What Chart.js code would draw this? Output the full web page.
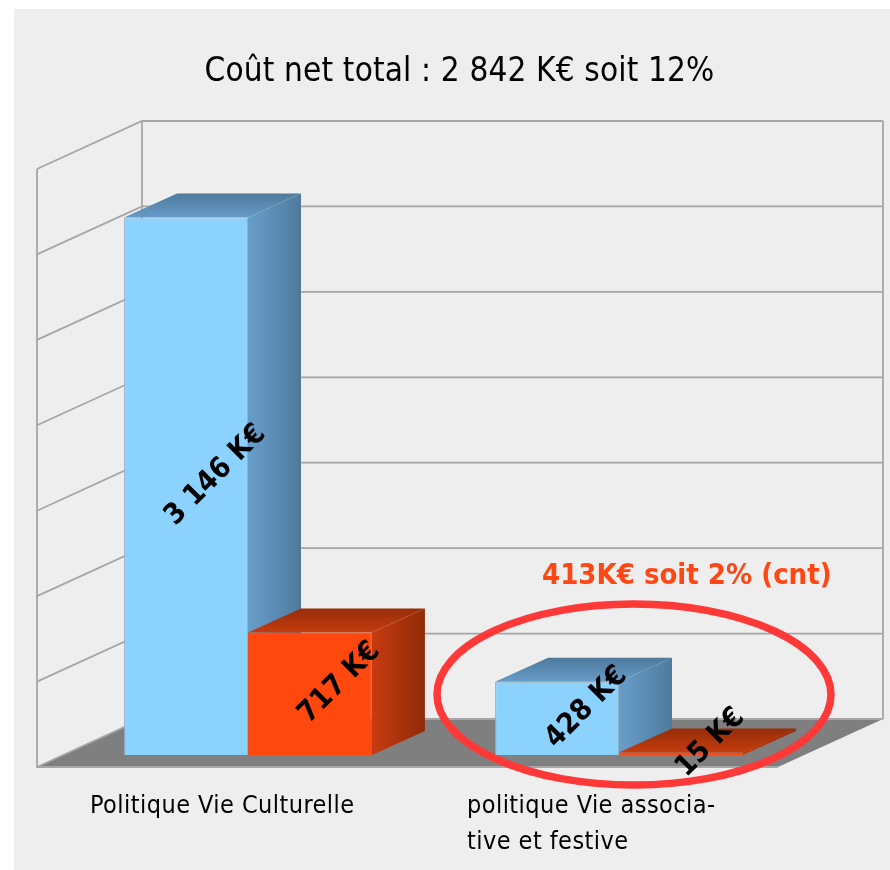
<!DOCTYPE html>
<html lang="fr">
<head>
<meta charset="utf-8">
<title>Coût net total</title>
<style>
  html, body { margin: 0; padding: 0; background: #ffffff; }
  canvas { display: block; }
</style>
<script src="https://cdn.jsdelivr.net/npm/chart.js@4/dist/chart.umd.js"></script>
</head>
<body>
<canvas id="chart" width="890" height="870"></canvas>
<script>
const categories = [['Politique Vie Culturelle'], ['politique Vie associa-', 'tive et festive']];
const depenses = [3146, 428];
const recettes = [717, 15];
const gridValues = [0, 500, 1000, 1500, 2000, 2500, 3000, 3500];
const titleText = 'Coût net total : 2 842 K€ soit 12%';
const noteText = '413K€ soit 2% (cnt)';

const FONT = '"DejaVu Sans Condensed", "DejaVu Sans", sans-serif';
const depth = { x: 53, y: -24 };
const wall = { x: 105, y: -48, frontX: 37, frontOffset: 12, rightX: 883, floorRightX: 778 };

const faces = [
  { side: ['#689ecb', '#4f7a9c'], top: ['#4f7a9c', '#659bc8'] },
  { side: ['#c83a10', '#8f2c08'], top: ['#962d08', '#c43c0e'] }
];

function formatValue(v) {
  return String(v).replace(/\B(?=(\d{3})+$)/g, ' ') + ' K€';
}

function gradient(ctx, x0, y0, x1, y1, colors) {
  const g = ctx.createLinearGradient(x0, y0, x1, y1);
  g.addColorStop(0, colors[0]);
  g.addColorStop(1, colors[1]);
  return g;
}

function poly(ctx, pts) {
  ctx.beginPath();
  pts.forEach((p, i) => i ? ctx.lineTo(p[0], p[1]) : ctx.moveTo(p[0], p[1]));
  ctx.closePath();
}

const scene3d = {
  id: 'scene3d',
  beforeDraw(chart) {
    const ctx = chart.ctx;
    ctx.save();
    ctx.fillStyle = '#eeeeee';
    ctx.fillRect(14, 9, 876, 861);

    ctx.font = '33px ' + FONT;
    ctx.letterSpacing = '0.15px';
    ctx.fillStyle = '#000000';
    ctx.textAlign = 'center';
    ctx.textBaseline = 'alphabetic';
    ctx.fillText(titleText, 459.5, 81);
    ctx.restore();
  },
  beforeDatasetsDraw(chart) {
    const ctx = chart.ctx;
    const y = chart.scales.y;
    const x = chart.scales.x;
    const backX = wall.frontX + wall.x;
    const base = y.getPixelForValue(0) + wall.frontOffset;
    const backOf = v => y.getPixelForValue(v) + wall.frontOffset + wall.y;
    const frontOf = v => y.getPixelForValue(v) + wall.frontOffset;

    ctx.save();
    // floor
    ctx.fillStyle = '#7f7f7f';
    poly(ctx, [[wall.frontX, base], [wall.floorRightX, base], [wall.rightX, base + wall.y], [backX, base + wall.y]]);
    ctx.fill();

    // walls and grid
    ctx.strokeStyle = '#a6a6a6';
    ctx.lineWidth = 1.8;
    gridValues.forEach(v => {
      ctx.beginPath();
      ctx.moveTo(wall.frontX, frontOf(v));
      ctx.lineTo(backX, backOf(v));
      ctx.lineTo(wall.rightX, backOf(v));
      ctx.stroke();
    });
    const top = gridValues[gridValues.length - 1];
    ctx.beginPath();
    ctx.moveTo(wall.frontX, frontOf(top));
    ctx.lineTo(wall.frontX, base);
    ctx.lineTo(wall.floorRightX, base);
    ctx.moveTo(backX, backOf(top));
    ctx.lineTo(backX, backOf(0));
    ctx.moveTo(wall.rightX, backOf(top));
    ctx.lineTo(wall.rightX, backOf(0));
    ctx.stroke();

    // side and top faces, category by category so later bars cover earlier ones
    categories.forEach((c, i) => {
      chart.data.datasets.forEach((ds, d) => {
        const bar = chart.getDatasetMeta(d).data[i];
        const l = bar.x - bar.width / 2;
        const r = bar.x + bar.width / 2;
        const t = bar.y;
        const b = bar.base;
        ctx.fillStyle = gradient(ctx, r, 0, r + depth.x, 0, faces[d].side);
        poly(ctx, [[r, t], [r + depth.x, t + depth.y], [r + depth.x, b + depth.y], [r, b]]);
        ctx.fill();
        ctx.fillStyle = gradient(ctx, 0, t + depth.y, 0, t, faces[d].top);
        poly(ctx, [[l, t], [l + depth.x, t + depth.y], [r + depth.x, t + depth.y], [r, t]]);
        ctx.fill();
      });
    });

    // category labels
    const lefts = [-158, -152];
    ctx.font = '25px ' + FONT;
    ctx.letterSpacing = '0.45px';
    ctx.fillStyle = '#000000';
    ctx.textAlign = 'left';
    ctx.textBaseline = 'alphabetic';
    categories.forEach((lines, i) => {
      lines.forEach((line, n) => {
        ctx.fillText(line, x.getPixelForTick(i) + lefts[i], 813 + n * 36);
      });
    });
    ctx.restore();
  },
  afterDatasetsDraw(chart) {
    const ctx = chart.ctx;
    ctx.save();
    // highlight ring and its note
    ctx.strokeStyle = '#ff3838';
    ctx.lineWidth = 7.5;
    ctx.beginPath();
    ctx.ellipse(634, 694.5, 197, 90.5, 0, 0, Math.PI * 2);
    ctx.stroke();

    ctx.font = 'bold 29px ' + FONT;
    ctx.fillStyle = '#ff4713';
    ctx.textAlign = 'left';
    ctx.textBaseline = 'alphabetic';
    ctx.fillText(noteText, 542, 584);

    // value labels, centred on the 3D box
    ctx.font = 'bold 29px ' + FONT;
    ctx.fillStyle = '#000000';
    ctx.textAlign = 'center';
    ctx.textBaseline = 'middle';
    chart.data.datasets.forEach((ds, d) => {
      chart.getDatasetMeta(d).data.forEach((bar, i) => {
        ctx.save();
        ctx.translate(bar.x + depth.x / 2 + 3, (bar.y + bar.base) / 2 + depth.y / 2 + 1);
        ctx.rotate(-Math.PI / 4);
        ctx.fillText(formatValue(ds.data[i]), 0, 0);
        ctx.restore();
      });
    });
    ctx.restore();
  }
};

new Chart(document.getElementById('chart'), {
  type: 'bar',
  data: {
    labels: categories,
    datasets: [
      { label: 'Dépenses', data: depenses, backgroundColor: '#8bd2ff', borderColor: '#93b0c2', borderWidth: 1 },
      { label: 'Recettes', data: recettes, backgroundColor: '#ff480d', borderColor: '#e8521f', borderWidth: 1 }
    ]
  },
  options: {
    responsive: false,
    animation: false,
    layout: { padding: { left: 62.5, right: 85.5, top: 157, bottom: 115 } },
    categoryPercentage: 0.668,
    barPercentage: 1,
    plugins: { legend: { display: false }, tooltip: { enabled: false }, title: { display: false } },
    scales: {
      x: { display: false },
      y: { display: false, min: 0, max: 3500 }
    }
  },
  plugins: [scene3d]
});
</script>
</body>
</html>
